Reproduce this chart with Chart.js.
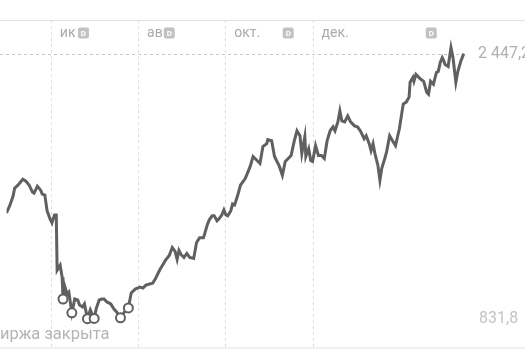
<!DOCTYPE html>
<html>
<head>
<meta charset="utf-8">
<script src="https://cdn.jsdelivr.net/npm/chart.js@4.4.1/dist/chart.umd.min.js"></script>
<style>
    body { margin: 0; background: #fff; }
    #wrap { width: 525px; height: 355px; }
</style>
</head>
<body>
<div id="wrap"><canvas id="chart" width="525" height="355"></canvas></div>
<script>
const days = [
    0, 2.2, 4.6, 5.7, 8.0, 11.4, 13.6, 15.9, 18.2, 19.3, 21.6, 23.9, 25.0, 26.8, 28.4, 30.7, 31.8, 33.6, 34.8,
    35.4, 37.5, 38.9, 39.5, 40.9, 42.3, 43.6, 45.7, 47.7, 49.8, 51.1, 53.2, 54.5, 56.6, 58.6, 60.0, 61.3, 62.7,
    64.8, 66.8, 68.2, 70.2, 72.9, 75.0, 77.0, 79.7, 82.5, 85.2, 87.2, 90.0, 93.4, 95.4, 97.5, 102.2, 104.3,
    107.0, 109.1, 111.1, 113.8, 115.9, 117.9, 119.3, 120.6, 122.0, 124.1, 126.1, 128.1, 130.9, 132.9, 135.0,
    137.7, 138.4, 140.4, 141.8, 143.8, 145.2, 147.2, 148.6, 150.6, 152.0, 153.4, 154.7, 156.8, 158.1, 159.5,
    161.5, 163.6, 165.6, 167.0, 168.4, 170.4, 172.4, 175.2, 177.2, 179.3, 182.0, 182.7, 185.4, 187.4, 190.8,
    192.9, 194.9, 197.0, 199.0, 201.1, 203.1, 205.2, 206.5, 208.6, 209.3, 211.3, 212.7, 214.0, 216.1, 218.1,
    220.2, 222.2, 224.2, 226.3, 228.3, 229.7, 231.7, 233.1, 234.5, 236.5, 238.6, 240.6, 243.3, 245.4, 247.4,
    250.1, 251.5, 253.6, 254.9, 256.3, 257.6, 259.7, 261.1, 262.4, 264.5, 265.8, 267.9, 269.9, 272.0, 274.7,
    277.4, 279.5, 281.5, 282.2, 284.2, 284.9, 286.3, 288.3, 289.7, 291.7, 293.8, 295.1, 296.5, 298.5, 300.6,
    301.9, 303.3, 304.7, 305.4, 306.7, 308.8, 310.8, 312.2, 314.2, 315.6, 317.6, 319.7
];
const prices = [
    1476.4, 1518.6, 1578.9, 1627.1, 1645.2, 1681.4, 1669.3, 1645.2, 1603.0, 1597.0, 1639.2, 1615.0, 1590.9, 1584.9, 1488.4, 1434.1, 1416.0, 1464.3, 1464.3,
    1126.6, 1156.8, 1084.4, 951.7, 1024.1, 981.9, 994.0, 867.3, 951.7, 945.7, 915.6, 903.5, 921.6, 831.8, 885.4, 855.3, 833.0, 891.4,
    945.7, 951.7, 951.7, 933.7, 921.6, 891.4, 873.4, 837.2, 873.4, 897.5, 987.9, 1012.0, 1024.1, 1018.1, 1036.2, 1048.2, 1078.4,
    1126.6, 1156.8, 1186.9, 1217.1, 1265.3, 1241.2, 1192.9, 1247.2, 1223.1, 1205.0, 1229.1, 1205.0, 1199.0, 1295.5, 1325.6,
    1325.6, 1343.7, 1404.0, 1434.1, 1458.3, 1458.3, 1428.1, 1440.2, 1464.3, 1494.4, 1464.3, 1458.3, 1488.4, 1530.6, 1524.6,
    1578.9, 1645.2, 1669.3, 1687.4, 1717.6, 1759.8, 1820.1, 1795.9, 1777.9, 1880.4, 1898.5, 1922.6, 1916.5, 1820.1, 1759.8,
    1705.5, 1789.9, 1808.0, 1826.1, 1910.5, 1976.8, 1946.7, 1838.2, 1940.7, 1820.1, 1868.3, 1795.9, 1789.9, 1886.4, 1826.1,
    1826.1, 1808.0, 1916.5, 1976.8, 2001.0, 1976.8, 2031.1, 2097.4, 2037.1, 2031.1, 2067.3, 2031.1, 2007.0, 2001.0, 1976.8,
    1928.6, 1946.7, 1898.5, 1856.2, 1898.5, 1838.2, 1765.8, 1675.3, 1747.7, 1808.0, 1850.2, 1946.7, 1916.5, 1886.4, 1988.9,
    2139.7, 2151.7, 2181.9, 2272.3, 2302.5, 2278.3, 2320.6, 2302.5, 2290.4, 2278.3, 2212.0, 2200.0, 2278.3, 2260.3, 2332.6,
    2338.6, 2392.9, 2423.1, 2411.0, 2380.9, 2368.8, 2483.4, 2423.1, 2272.3, 2338.6, 2398.9, 2447.2
];

// days when the exchange was closed (hollow markers)
const closedDays = [39.5, 45.7, 56.6, 61.3, 79.7, 85.2];
const closedPrices = [951.7, 867.3, 831.8, 833.0, 837.2, 897.5];

// month gridlines and their labels
const monthDays = [31, 92, 153, 214];
const monthLabels = ["ик", "ав", "окт.", "дек."];

// dividend markers along the top
const dividendDays = [53.8, 113.8, 197, 297];

const lastPrice = 2447.2;
const minPrice = 831.8;
const lastLabel = "2 447,2";
const minLabel = "831,8";
const closedText = "Биржа закрыта";

const lineColor = "#5e6062";
const fontFamily = "Roboto, 'Noto Sans', sans-serif";

const decorPlugin = {
    id: "decor",
    beforeDatasetsDraw(chart) {
        const { ctx, chartArea, scales } = chart;
        const xs = scales.x, ys = scales.y;
        ctx.save();

        // top and bottom rules
        ctx.strokeStyle = "#e2e2e2";
        ctx.lineWidth = 1;
        ctx.beginPath();
        ctx.moveTo(0, chartArea.top + 0.5);
        ctx.lineTo(chart.width, chartArea.top + 0.5);
        ctx.moveTo(0, chartArea.bottom - 0.5);
        ctx.lineTo(chart.width, chartArea.bottom - 0.5);
        ctx.stroke();

        // month gridlines
        ctx.strokeStyle = "#dedede";
        ctx.setLineDash([3, 3]);
        monthDays.forEach(d => {
            const x = Math.round(xs.getPixelForValue(d)) + 0.5;
            ctx.beginPath();
            ctx.moveTo(x, chartArea.top);
            ctx.lineTo(x, chartArea.bottom);
            ctx.stroke();
        });

        // last price line
        const yLast = Math.round(ys.getPixelForValue(lastPrice)) + 0.5;
        ctx.strokeStyle = "#c8c8c8";
        ctx.beginPath();
        ctx.moveTo(0, yLast);
        ctx.lineTo(xs.getPixelForValue(days[days.length - 1]), yLast);
        ctx.stroke();
        ctx.setLineDash([]);

        // month labels
        ctx.font = "14px " + fontFamily;
        ctx.fillStyle = "#aaaaaa";
        ctx.textBaseline = "middle";
        ctx.textAlign = "left";
        monthDays.forEach((d, i) => {
            ctx.fillText(monthLabels[i], xs.getPixelForValue(d) + 9, chartArea.top + 13);
        });

        // dividend badges
        dividendDays.forEach(d => {
            const cx = xs.getPixelForValue(d);
            const cy = chartArea.top + 13;
            ctx.fillStyle = "#c2c2c2";
            ctx.beginPath();
            ctx.roundRect(cx - 5.5, cy - 5.5, 11, 11, 2);
            ctx.fill();
            ctx.fillStyle = "#ffffff";
            ctx.font = "bold 8px " + fontFamily;
            ctx.textAlign = "center";
            ctx.fillText("D", cx, cy + 0.5);
        });

        // price labels
        ctx.textAlign = "left";
        ctx.font = "16px " + fontFamily;
        ctx.fillStyle = "#b0b0b0";
        ctx.fillText(lastLabel, 478, ys.getPixelForValue(lastPrice));
        ctx.fillStyle = "#c4c4c4";
        ctx.fillText(minLabel, 479, ys.getPixelForValue(minPrice));

        // market closed note, first letter runs off the left edge
        ctx.font = "16.5px " + fontFamily;
        ctx.fillStyle = "#b4b4b4";
        const shift = ctx.measureText("Б").width;
        ctx.fillText(closedText, -shift, chartArea.bottom - 14);

        ctx.restore();
    }
};

new Chart(document.getElementById("chart"), {
    type: "line",
    data: {
        datasets: [
            {
                data: closedDays.map((d, i) => ({ x: d, y: closedPrices[i] })),
                showLine: false,
                pointRadius: 4.5,
                pointBorderWidth: 2,
                pointBorderColor: lineColor,
                pointBackgroundColor: "#ffffff",
                order: 0
            },
            {
                data: days.map((d, i) => ({ x: d, y: prices[i] })),
                borderColor: lineColor,
                borderWidth: 3,
                pointRadius: 0,
                tension: 0,
                order: 1
            }
        ]
    },
    options: {
        responsive: false,
        animation: false,
        layout: { padding: { top: 20, bottom: 3, left: 0, right: 0 } },
        plugins: { legend: { display: false }, tooltip: { enabled: false } },
        scales: {
            x: { type: "linear", min: 0, max: 358, display: false },
            y: { min: 650, max: 2652, display: false }
        }
    },
    plugins: [decorPlugin]
});
</script>
</body>
</html>
